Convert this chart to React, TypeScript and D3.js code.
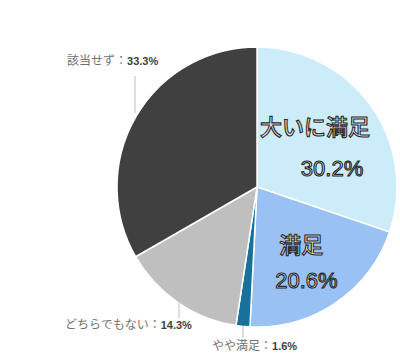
import React from "react";
import * as d3 from "d3";

const categories = ["大いに満足", "満足", "やや満足", "どちらでもない", "該当せず"];
const values = [30.2, 20.6, 1.6, 14.3, 33.3];
const colors = ["#cdecfa", "#99c1f3", "#17729b", "#bfbfbf", "#404040"];

const W = 400;
const H = 354;
const cx = 257;
const cy = 187;
const R = 140;

export default function App() {
  const pie = d3.pie<number>().sort(null).value((d) => d)(values);
  const arc = d3.arc<d3.PieArcDatum<number>>().innerRadius(0).outerRadius(R);

  const bigStyle = {
    fill: "#e4e4e4",
    stroke: "#2a2a2a",
    strokeWidth: 1.1,
    fontFamily: "'Liberation Sans', 'Noto Sans CJK JP', sans-serif",
    fontWeight: 500 as const,
  };
  const smallFont = "'Liberation Sans', 'Noto Sans CJK JP', sans-serif";

  // inner labels (slices 0 and 1)
  const inner = [
    { i: 0, lines: [{ t: categories[0], dx: 4, y: 135 }, { t: `${values[0].toFixed(1)}%`, dx: 21, y: 176 }] },
    { i: 1, lines: [{ t: categories[1], dx: 7, y: 253 }, { t: `${values[1].toFixed(1)}%`, dx: 12, y: 288 }] },
  ];

  // outer labels
  const outer = [
    { i: 4, x: 67, y: 65, lx: 135, ly1: 76, ly2: 113 },
    { i: 3, x: 65, y: 329, lx: 179, ly1: 303, ly2: 318 },
    { i: 2, x: 212, y: 350, lx: 243, ly1: 326, ly2: 338 },
  ];

  return (
    <svg
      width={W}
      height={H}
      style={{ position: "absolute", left: 0, top: 0, background: "#ffffff" }}
    >
      <rect width={W} height={H} fill="#ffffff" />
      <g transform={`translate(${cx},${cy})`}>
        {pie.map((p, i) => (
          <path key={i} d={arc(p) || ""} fill={colors[i]} stroke="#ffffff" strokeWidth={1.5} />
        ))}
      </g>
      {inner.map((g) =>
        g.lines.map((l, j) => {
          const c = arc.centroid(pie[g.i]);
          const x = cx + c[0] * 0.95 + l.dx;
          return (
            <text key={`${g.i}-${j}`} x={x} y={l.y} textAnchor="middle" fontSize={22} style={bigStyle}>
              {l.t}
            </text>
          );
        })
      )}
      {outer.map((o) => (
        <g key={o.i}>
          <line x1={o.lx} x2={o.lx} y1={o.ly1} y2={o.ly2} stroke="#c8c8c8" strokeWidth={1.2} />
          <text x={o.x} y={o.y} fontFamily={smallFont} fontSize={12}>
            <tspan fill="#707070">{categories[o.i]}：</tspan>
            <tspan fill="#404040" fontWeight={700} fontSize={11}>
              {`${values[o.i].toFixed(1)}%`}
            </tspan>
          </text>
        </g>
      ))}
    </svg>
  );
}
